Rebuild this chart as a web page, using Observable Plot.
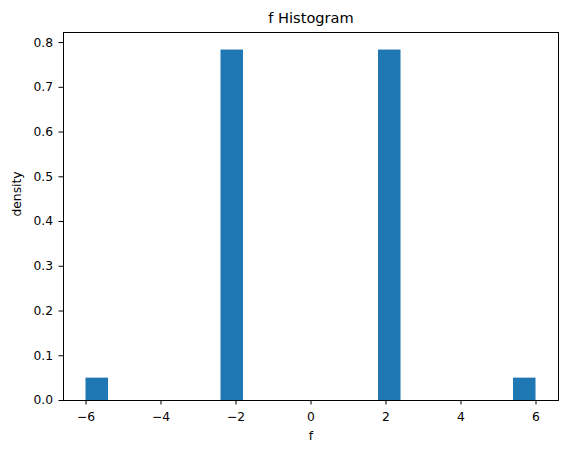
<!DOCTYPE html>
<html>
<head>
<meta charset="utf-8">
<script src="https://cdn.jsdelivr.net/npm/d3@7"></script>
<script src="https://cdn.jsdelivr.net/npm/@observablehq/plot@0.6"></script>
<style>
  html, body { margin: 0; padding: 0; background: #fff; }
</style>
</head>
<body>
<div id="chart"></div>
<script>
// Histogram bins (edges) and densities
const binStart = [-6.0, -2.4, 1.8, 5.4];
const binEnd   = [-5.4, -1.8, 2.4, 6.0];
const density  = [0.05, 0.7833, 0.7833, 0.05];
const xTicks = [-6, -4, -2, 0, 2, 4, 6];
const yTicks = [0.0, 0.1, 0.2, 0.3, 0.4, 0.5, 0.6, 0.7, 0.8];
const title = "f Histogram";
const xLabel = "f";
const yLabel = "density";

const bars = binStart.map((s, i) => ({x1: s, x2: binEnd[i], y: density[i]}));

const chart = Plot.plot({
  width: 567,
  height: 454,
  marginLeft: 63,
  marginRight: 9,
  marginTop: 32,
  marginBottom: 54,
  style: {fontFamily: "DejaVu Sans", fontSize: "12px", color: "#000", background: "#fff"},
  x: {domain: [-6.6, 6.6], label: null},
  y: {domain: [0, 0.8225], label: null},
  marks: [
    Plot.rectY(bars, {x1: "x1", x2: "x2", y: "y", fill: "#1f77b4", inset: 0}),
    Plot.axisX({ticks: xTicks, tickSize: 4.5, tickPadding: 7.5, tickFormat: d3.format("d"), stroke: "#000", fontSize: 12.3, label: null}),
    Plot.axisY({ticks: yTicks, tickSize: 4.5, tickPadding: 6, tickFormat: d3.format(".1f"), stroke: "#000", fontSize: 12.3, label: null}),
    Plot.frame({stroke: "#000", strokeWidth: 1}),
    Plot.text([title], {frameAnchor: "top", dy: -10, lineAnchor: "bottom", fontSize: 14.6}),
    Plot.text([xLabel], {frameAnchor: "bottom", dy: 31, lineAnchor: "top", fontSize: 12.3}),
    Plot.text([yLabel], {frameAnchor: "left", dx: -46, rotate: -90, fontSize: 12.3})
  ]
});
document.getElementById("chart").appendChild(chart);
</script>
</body>
</html>
